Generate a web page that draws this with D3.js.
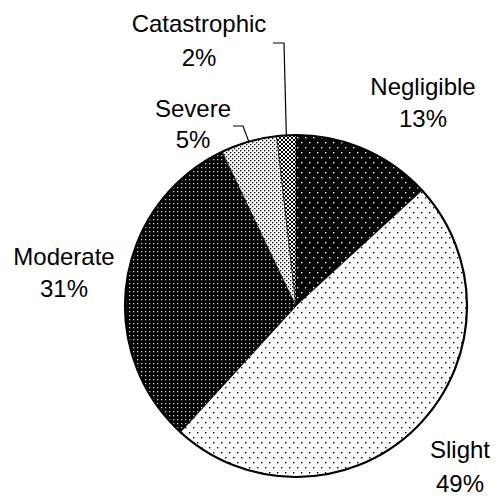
<!DOCTYPE html>
<html lang="en">
<head>
<meta charset="utf-8">
<title>Severity pie</title>
<script src="https://d3js.org/d3.v7.min.js"></script>
<style>
  body { margin: 0; background: #fff; }
  .lbl { font-family: "Liberation Sans", Arial, sans-serif; font-size: 24px; fill: #000; }
  .leader { fill: none; stroke: #000; stroke-width: 1.2; }
</style>
</head>
<body>
<svg width="496" height="497"></svg>
<script>
// chart data
var categories = ["Negligible", "Slight", "Moderate", "Severe", "Catastrophic"];
var shares = [13.2, 48.6, 31.1, 5.3, 1.8];
var pctLabels = ["13%", "49%", "31%", "5%", "2%"];

var svg = d3.select("svg");
var cx = 296, cy = 306, r = 171;

// fill patterns, one per slice
var defs = svg.append("defs");
function pattern(id, w, h, bg) {
  var p = defs.append("pattern").attr("id", id)
    .attr("patternUnits", "userSpaceOnUse")
    .attr("width", w).attr("height", h);
  p.append("rect").attr("width", w).attr("height", h).attr("fill", bg);
  return p;
}
var pNeg = pattern("pNeg", 8, 10, "#000");
pNeg.append("rect").attr("x", 1).attr("y", 1).attr("width", 1.4).attr("height", 1.4).attr("fill", "#fff");
pNeg.append("rect").attr("x", 5).attr("y", 6).attr("width", 1.4).attr("height", 1.4).attr("fill", "#fff");

var pSli = pattern("pSli", 8, 10, "#fff");
pSli.append("rect").attr("x", 1).attr("y", 1).attr("width", 1.4).attr("height", 1.4).attr("fill", "#000");
pSli.append("rect").attr("x", 5).attr("y", 6).attr("width", 1.4).attr("height", 1.4).attr("fill", "#000");

var pMod = pattern("pMod", 4, 4, "#000");
pMod.append("rect").attr("x", 1).attr("y", 1).attr("width", 1.3).attr("height", 1.3).attr("fill", "#ccc");

var pSev = pattern("pSev", 4, 4, "#fff");
pSev.append("rect").attr("x", 0).attr("y", 0).attr("width", 1.3).attr("height", 1.3).attr("fill", "#000");
pSev.append("rect").attr("x", 2).attr("y", 2).attr("width", 1.3).attr("height", 1.3).attr("fill", "#000");

var pCat = pattern("pCat", 4, 4, "#fff");
pCat.append("path").attr("d", "M0,0L4,4M4,0L0,4").attr("stroke", "#000").attr("stroke-width", 1);

var fills = d3.scaleOrdinal().domain(categories)
  .range(["url(#pNeg)", "url(#pSli)", "url(#pMod)", "url(#pSev)", "url(#pCat)"]);

var data = categories.map(function(c, i) { return { name: c, value: shares[i], pct: pctLabels[i] }; });
var pie = d3.pie().sort(null).value(function(d) { return d.value; });
var arcs = pie(data);
var arc = d3.arc().innerRadius(0).outerRadius(r);
var edge = d3.arc().innerRadius(r).outerRadius(r);

var g = svg.append("g").attr("transform", "translate(" + cx + "," + cy + ")");
g.selectAll("path.slice")
  .data(arcs)
  .enter()
  .append("path")
  .attr("class", "slice")
  .attr("d", arc)
  .attr("fill", function(d) { return fills(d.data.name); })
  .attr("stroke", "#000")
  .attr("stroke-width", 0.6);

g.append("circle").attr("r", r).attr("fill", "none").attr("stroke", "#000").attr("stroke-width", 2.2);

// label placement (first-line baseline, centre x) and optional leader elbows
var labelPos = {
  "Negligible":   { x: 423, y: 95,  gap: 32 },
  "Slight":       { x: 460, y: 458, gap: 34 },
  "Moderate":     { x: 64,  y: 265, gap: 32 },
  "Severe":       { x: 193, y: 117, gap: 31 },
  "Catastrophic": { x: 199, y: 32,  gap: 34, leader: [[273, 43], [284, 43]] }
};
labelPos["Severe"].leader = [[233, 126], [243, 126]];

arcs.forEach(function(a) {
  var p = labelPos[a.data.name];
  var t = svg.append("text").attr("class", "lbl").attr("text-anchor", "middle");
  t.append("tspan").attr("x", p.x).attr("y", p.y).text(a.data.name);
  t.append("tspan").attr("x", p.x).attr("y", p.y + p.gap).text(a.data.pct);
  if (p.leader) {
    var e = edge.centroid(a);
    var pts = p.leader.concat([[cx + e[0], cy + e[1]]]);
    svg.append("path").attr("class", "leader").attr("d", d3.line()(pts));
  }
});
</script>
</body>
</html>
